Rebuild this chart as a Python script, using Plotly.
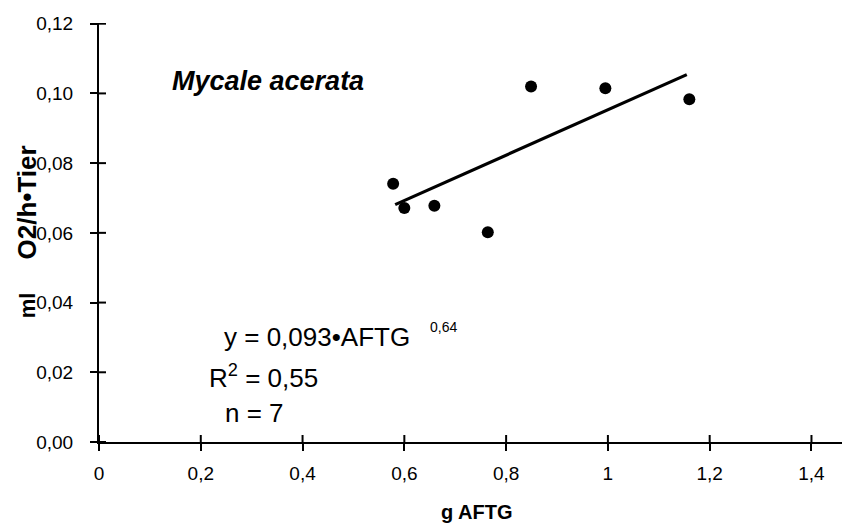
import plotly.graph_objects as go

# Data
mass_g = [0.578, 0.600, 0.659, 0.764, 0.849, 0.995, 1.160]
o2_ml = [0.0741, 0.0671, 0.0678, 0.0602, 0.1020, 0.1015, 0.0983]

trend_x = [0.582, 1.155]
trend_y = [0.0681, 0.1054]

x_ticks = [0, 0.2, 0.4, 0.6, 0.8, 1.0, 1.2, 1.4]
x_ticktext = ["0", "0,2", "0,4", "0,6", "0,8", "1", "1,2", "1,4"]
y_ticks = [0.0, 0.02, 0.04, 0.06, 0.08, 0.10, 0.12]
y_ticktext = ["0,00", "0,02", "0,04", "0,06", "0,08", "0,10", "0,12"]

species = "Mycale acerata"
eq_main = "y = 0,093•AFTG"
eq_exp = "0,64"
eq_r2 = "R<sup>2</sup> = 0,55"
eq_n = "n = 7"
x_title = "g AFTG"
y_title_unit = "ml"
y_title_rest = "O2/h•Tier"

FONT = "Liberation Sans, Arial, Helvetica, sans-serif"
XR = [0, 1.46]
YR = [0, 0.1202]
W, H = 856, 525
ML, MR, MT, MB = 99, 14, 23, 83
TICK_HALF = 7

plot_w = W - ML - MR
plot_h = H - MT - MB
dx_tick = TICK_HALF * (XR[1] - XR[0]) / plot_w
dy_tick = TICK_HALF * (YR[1] - YR[0]) / plot_h

# inner halves of the crossing ticks, built from the tick lists
inner_x, inner_y = [], []
for xv in x_ticks:
    inner_x += [xv, xv, None]
    inner_y += [YR[0], YR[0] + dy_tick, None]
for yv in y_ticks:
    inner_x += [XR[0], XR[0] + dx_tick, None]
    inner_y += [yv, yv, None]

fig = go.Figure()
fig.add_trace(go.Scatter(
    x=inner_x, y=inner_y, mode="lines", connectgaps=False,
    line=dict(color="black", width=2), cliponaxis=False,
    showlegend=False, hoverinfo="skip"))
fig.add_trace(go.Scatter(
    x=mass_g, y=o2_ml, mode="markers",
    marker=dict(color="black", size=12),
    showlegend=False, hoverinfo="x+y"))
fig.add_trace(go.Scatter(
    x=trend_x, y=trend_y, mode="lines",
    line=dict(color="black", width=3.2),
    showlegend=False, hoverinfo="skip"))

fig.update_layout(
    width=W, height=H,
    margin=dict(l=ML, r=MR, t=MT, b=MB),
    plot_bgcolor="white", paper_bgcolor="white",
    font=dict(family=FONT, color="black", size=19),
    xaxis=dict(range=XR, tickvals=x_ticks, ticktext=x_ticktext,
               ticks="outside", ticklen=TICK_HALF, tickwidth=2, tickcolor="black",
               showline=True, linecolor="black", linewidth=2,
               showgrid=False, zeroline=False,
               tickfont=dict(size=19), ticklabelstandoff=6),
    yaxis=dict(range=YR, tickvals=y_ticks, ticktext=y_ticktext,
               ticks="outside", ticklen=TICK_HALF, tickwidth=2, tickcolor="black",
               showline=True, linecolor="black", linewidth=2,
               showgrid=False, zeroline=False,
               tickfont=dict(size=19), ticklabelstandoff=13),
)

ann = []
ann.append(dict(text="<b><i>" + species + "</i></b>", x=0.139, y=0.1035,
                xref="x", yref="y", xanchor="left", yanchor="middle",
                showarrow=False, font=dict(size=27, family=FONT)))
ann.append(dict(text=eq_main, x=0.242, y=0.0300, xref="x", yref="y",
                xanchor="left", yanchor="middle", showarrow=False,
                font=dict(size=26, family=FONT)))
ann.append(dict(text=eq_exp, x=0.646, y=0.0330, xref="x", yref="y",
                xanchor="left", yanchor="middle", showarrow=False,
                font=dict(size=14, family=FONT)))
ann.append(dict(text=eq_r2, x=0.212, y=0.0189, xref="x", yref="y",
                xanchor="left", yanchor="middle", showarrow=False,
                font=dict(size=26, family=FONT)))
ann.append(dict(text=eq_n, x=0.244, y=0.0083, xref="x", yref="y",
                xanchor="left", yanchor="middle", showarrow=False,
                font=dict(size=26, family=FONT)))
ann.append(dict(text="<b>" + x_title + "</b>", x=0.741, y=-0.167,
                xref="x", yref="paper", xanchor="center", yanchor="middle",
                showarrow=False, font=dict(size=20, family=FONT)))
ann.append(dict(text="<b>" + y_title_unit + "</b>", x=-0.097, y=0.0392,
                xref="paper", yref="y", xanchor="center", yanchor="middle",
                textangle=-90, showarrow=False, font=dict(size=22, family=FONT)))
ann.append(dict(text="<b>" + y_title_rest + "</b>", x=-0.097, y=0.0687,
                xref="paper", yref="y", xanchor="center", yanchor="middle",
                textangle=-90, showarrow=False, font=dict(size=26, family=FONT)))
fig.update_layout(annotations=ann)

fig.write_html("out.html")
